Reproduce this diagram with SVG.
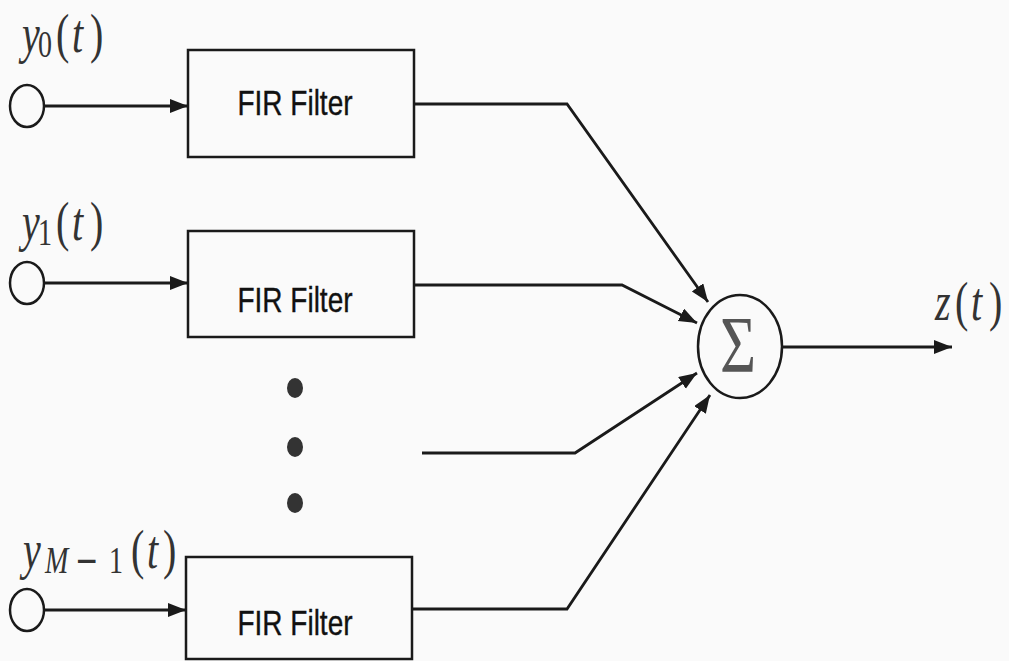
<svg xmlns="http://www.w3.org/2000/svg" width="1009" height="661" viewBox="0 0 1009 661">
  <style>
    .box { fill: none; stroke: #1a1a1a; stroke-width: 2.5; }
    .wire { fill: none; stroke: #1a1a1a; stroke-width: 2.8; stroke-linejoin: miter; }
    .port { fill: none; stroke: #1a1a1a; stroke-width: 2.5; }
    .fir { font-family: "Liberation Sans", Arial, sans-serif; font-size: 28px; fill: #111; text-anchor: middle; stroke: #111; stroke-width: 0.3; }
    .math { font-family: "Liberation Serif", "Times New Roman", serif; font-size: 40px; fill: #333; }
    .it { font-style: italic; }
    .sub { font-size: 28px; }
  </style>
  <defs>
    <marker id="arr" markerUnits="userSpaceOnUse" markerWidth="20" markerHeight="16" refX="18" refY="7" orient="auto">
      <path d="M0,0 L18,7 L0,14 z" fill="#1a1a1a"/>
    </marker>
  </defs>
  <rect x="0" y="0" width="1009" height="661" fill="#fafafa"/>

  <g id="in0">
    <ellipse class="port" cx="27" cy="106" rx="17" ry="21"/>
    <g transform="translate(22,52) scale(1,1.35)" class="math">
      <text><tspan class="it" x="0" y="0">y</tspan><tspan class="sub" x="16" y="4">0</tspan><tspan x="34" y="0">(</tspan><tspan class="it" x="50" y="0">t</tspan><tspan x="68" y="0">)</tspan></text>
    </g>
  </g>
  <g id="in1">
    <ellipse class="port" cx="27" cy="283" rx="17" ry="21"/>
    <g transform="translate(22,240) scale(1,1.35)" class="math">
      <text><tspan class="it" x="0" y="0">y</tspan><tspan class="sub" x="16" y="4">1</tspan><tspan x="34" y="0">(</tspan><tspan class="it" x="50" y="0">t</tspan><tspan x="68" y="0">)</tspan></text>
    </g>
  </g>
  <g id="inM">
    <ellipse class="port" cx="27" cy="610" rx="17" ry="21"/>
    <g transform="translate(23,568) scale(1,1.35)" class="math">
      <text><tspan class="it" x="0" y="0">y</tspan><tspan class="sub it" x="22" y="4">M</tspan><tspan class="sub" x="52" y="4" style="font-family:'DejaVu Sans',sans-serif;font-size:28px">−</tspan><tspan class="sub" x="86" y="4">1</tspan><tspan x="108" y="0">(</tspan><tspan class="it" x="124" y="0">t</tspan><tspan x="140" y="0">)</tspan></text>
    </g>
  </g>

  <g id="fir0">
    <rect class="box" x="188" y="50" width="226" height="107"/>
    <text class="fir" transform="translate(295,115) scale(1,1.22)">FIR Filter</text>
  </g>
  <g id="fir1">
    <rect class="box" x="188" y="231" width="226" height="106"/>
    <text class="fir" transform="translate(295,312) scale(1,1.22)">FIR Filter</text>
  </g>
  <g id="firM">
    <rect class="box" x="186" y="557" width="226" height="102"/>
    <text class="fir" transform="translate(295,635) scale(1,1.22)">FIR Filter</text>
  </g>

  <g id="dots" fill="#333">
    <ellipse cx="295" cy="388" rx="8" ry="10"/>
    <ellipse cx="295" cy="447" rx="8" ry="10"/>
    <ellipse cx="295" cy="503" rx="8" ry="10"/>
  </g>

  <g id="sum">
    <ellipse class="port" cx="740" cy="346.5" rx="42" ry="51.5"/>
    <text transform="translate(738,372) scale(1,1.3)" style="font-family:'Liberation Serif','Times New Roman',serif;font-size:62px;fill:#555;text-anchor:middle">Σ</text>
  </g>

  <g id="out">
    <g transform="translate(935,320) scale(1,1.35)" class="math">
      <text><tspan class="it" x="0" y="0">z</tspan><tspan x="20" y="0">(</tspan><tspan class="it" x="36" y="0">t</tspan><tspan x="54" y="0">)</tspan></text>
    </g>
  </g>

  <g id="connectors">
    <line class="wire" x1="44" y1="106" x2="188" y2="106" marker-end="url(#arr)"/>
    <line class="wire" x1="44" y1="283" x2="188" y2="283" marker-end="url(#arr)"/>
    <line class="wire" x1="44" y1="610" x2="186" y2="610" marker-end="url(#arr)"/>
    <polyline class="wire" points="414,104 567,104 708,302" marker-end="url(#arr)"/>
    <polyline class="wire" points="414,285 622,285 697,323" marker-end="url(#arr)"/>
    <polyline class="wire" points="422,453 575,453 697,373" marker-end="url(#arr)"/>
    <polyline class="wire" points="412,609 567,609 710,395" marker-end="url(#arr)"/>
    <line class="wire" x1="782" y1="347" x2="952" y2="347" marker-end="url(#arr)"/>
  </g>
</svg>
